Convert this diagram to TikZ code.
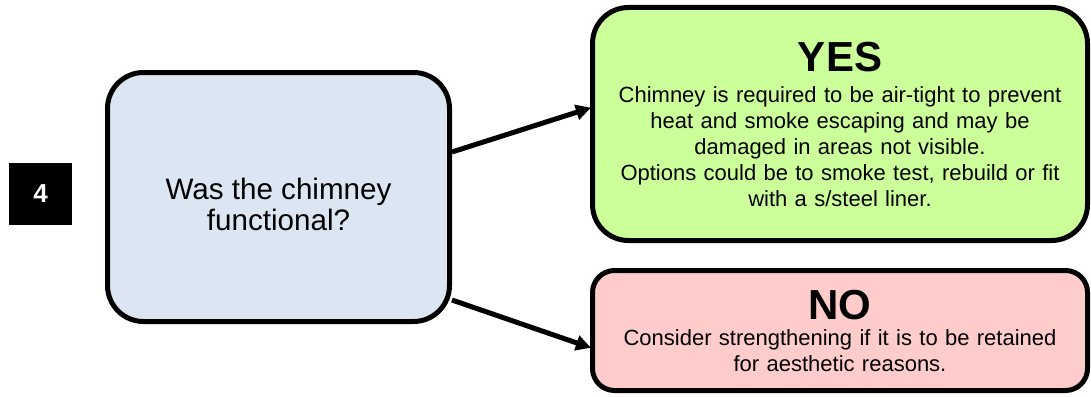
\documentclass[tikz,border=0pt]{standalone}
\usepackage{fontspec}
\setmainfont{Liberation Sans}
\usetikzlibrary{arrows.meta}
\definecolor{qfill}{HTML}{DCE6F2}
\definecolor{yesfill}{HTML}{CCFF99}
\definecolor{nofill}{HTML}{FFCCCC}
\begin{document}
\begin{tikzpicture}[x=1pt,y=-1pt,
  box/.style={draw=black, line width=5pt, rounded corners=36pt, align=center, inner sep=0pt},
  link/.style={line width=5pt, -{Triangle[length=15pt,width=15pt]}, shorten >=-1pt},
  body/.style={font=\fontsize{22}{26}\selectfont}]
\useasboundingbox (0,0) rectangle (1091,396);
% step number badge
\node[fill=black, text=white, minimum width=63pt, minimum height=62pt, inner sep=0pt,
  font=\fontsize{26}{26}\selectfont\bfseries] (num) at (40.5,194) {4};
% question (the strut lowers the two lines a little inside the box)
\node[box, fill=qfill, minimum width=342pt, minimum height=249pt,
  font=\fontsize{29.6}{31}\selectfont] (q) at (278.5,197) {\rule{0pt}{36pt}Was the chimney\\functional?};
% answers
\node[box, fill=yesfill, minimum width=495pt, minimum height=233pt, text width=480pt,
  body] (yes) at (840,124)
  {{\fontsize{42}{42}\selectfont\bfseries YES\par}\vspace{5pt}
   Chimney is required to be air-tight to prevent\\
   heat and smoke escaping and may be\\
   damaged in areas not visible.\\
   Options could be to smoke test, rebuild or fit\\
   with a s/steel liner.\par};
\node[box, rounded corners=22pt, fill=nofill, minimum width=495pt, minimum height=120pt, text width=480pt,
  body] (no) at (840,330.5)
  {{\fontsize{42}{42}\selectfont\bfseries NO\par}
   Consider strengthening if it is to be retained\\
   for aesthetic reasons.\par};
% connectors
\draw[link] ([yshift=45pt]q.east) -- ([yshift=16pt]yes.west);
\draw[link] ([yshift=-103pt]q.east) -- ([yshift=-17pt]no.west);
\end{tikzpicture}
\end{document}
